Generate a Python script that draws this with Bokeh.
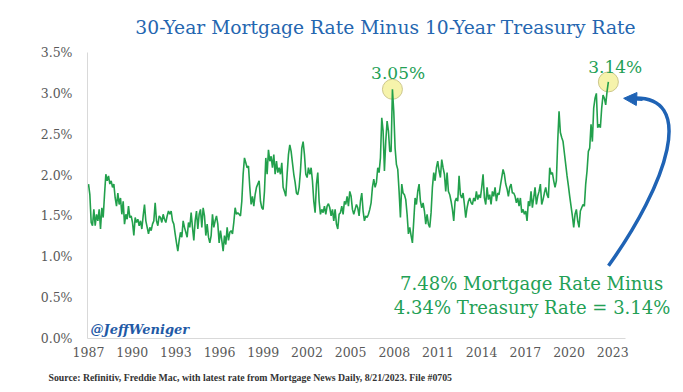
import numpy as np
from bokeh.plotting import figure
from bokeh.models import Range1d, FixedTicker, PrintfTickFormatter, Label, Arrow, NormalHead, Title
from bokeh.embed import file_html
from bokeh.resources import INLINE

# ---- data: 30-yr mortgage rate minus 10-yr Treasury (percentage points) ----
spread_1987_1993 = [
    1.89, 1.76, 1.42, 1.38, 1.58, 1.38, 1.52, 1.44, 1.58, 1.34,
    1.60, 1.48, 1.76, 2.01, 1.93, 1.99, 1.89, 1.93, 1.85, 1.89,
    1.72, 1.62, 1.78, 1.64, 1.72, 1.52, 1.68, 1.40, 1.52, 1.46,
    1.62, 1.48, 1.50, 1.42, 1.26, 1.48, 1.42, 1.46, 1.38, 1.44,
    1.34, 1.50, 1.64, 1.44, 1.36, 1.28, 1.36, 1.32, 1.40, 1.44,
    1.66, 1.44, 1.38, 1.50, 1.48, 1.42, 1.52, 1.46, 1.42, 1.50,
    1.56, 1.52, 1.56, 1.44, 1.40, 1.28, 1.17, 1.07, 1.20, 1.30,
    1.24, 1.44, 1.36, 1.30, 1.24, 1.42, 1.36]
spread_1994_2001 = [
    1.54, 1.36, 1.20, 1.44, 1.56, 1.34, 1.52, 1.58, 1.36, 1.60,
    1.50, 1.26, 1.40, 1.24, 1.17, 1.26, 1.52, 1.36, 1.44, 1.50,
    1.40, 1.17, 1.32, 1.20, 1.07, 1.26, 1.15, 1.36, 1.20, 1.30,
    1.32, 1.28, 1.42, 1.60, 1.52, 1.54, 1.52, 1.50, 1.68, 2.01,
    2.21, 2.15, 2.09, 2.11, 1.85, 1.64, 1.74, 1.62, 1.76, 1.85,
    1.89, 1.93, 1.68, 1.60, 1.58, 1.80, 2.21, 2.01, 2.31, 2.17,
    2.23, 2.09, 2.25, 2.01, 2.17, 2.03, 2.09, 2.01, 2.15, 1.85,
    1.80, 1.74, 2.01, 2.25, 2.37, 2.29, 2.15, 2.01, 1.91]
spread_2001_2009 = [
    1.78, 1.76, 1.85, 2.05, 2.33, 2.41, 2.25, 2.01, 1.97, 2.09,
    2.01, 2.09, 1.93, 1.68, 1.54, 1.89, 2.03, 1.68, 1.52, 1.58,
    1.54, 1.62, 1.52, 1.62, 1.65, 1.60, 1.50, 1.58, 1.44, 1.58,
    1.40, 1.34, 1.52, 1.54, 1.62, 1.52, 1.68, 1.64, 1.74, 1.62,
    1.80, 1.74, 1.58, 1.52, 1.58, 1.64, 1.60, 1.50, 1.68, 1.78,
    1.56, 1.44, 1.50, 1.48, 1.52, 1.58, 1.66, 1.85, 1.95, 1.85,
    1.91, 2.09, 2.03, 2.21, 2.70, 2.54, 2.05, 2.41, 2.66, 2.54,
    2.29, 2.29, 3.05, 2.78, 2.33, 2.13, 2.07, 1.80, 1.48, 1.89,
    1.78, 1.76, 1.70, 1.52, 1.28]
spread_2009_2016 = [
    1.36, 1.26, 1.17, 1.44, 1.72, 1.64, 1.80, 1.89, 1.68, 1.60,
    1.66, 1.56, 1.40, 1.52, 1.40, 1.36, 1.54, 1.85, 2.03, 1.93,
    2.09, 2.17, 2.05, 1.97, 2.19, 2.09, 2.01, 1.80, 2.03, 1.80,
    1.76, 1.68, 1.58, 1.44, 1.68, 1.72, 1.68, 1.99, 1.76, 1.72,
    1.78, 1.64, 1.48, 1.60, 1.68, 1.72, 1.66, 1.64, 1.72, 1.68,
    1.80, 1.70, 1.76, 1.72, 1.85, 2.01, 1.72, 1.64, 1.85, 1.70,
    1.76, 1.64, 1.80, 1.74, 1.85, 1.68, 1.78, 1.76, 1.87, 1.97,
    2.07, 2.01, 1.89, 1.83, 1.74, 1.85, 1.89, 1.78, 1.78, 1.74,
    1.66, 1.72, 1.62]
spread_2016_2023 = [
    1.72, 1.54, 1.58, 1.52, 1.56, 1.44, 1.68, 1.62, 1.80, 1.60,
    1.72, 1.85, 1.64, 1.74, 1.80, 1.89, 1.64, 1.70, 1.78, 1.85,
    1.76, 1.72, 2.09, 2.01, 2.03, 1.93, 1.85, 1.93, 2.41, 2.78,
    2.52, 2.46, 2.41, 2.27, 2.13, 1.99, 1.87, 1.74, 1.62, 1.50,
    1.36, 1.52, 1.58, 1.44, 1.36, 1.56, 1.60, 1.64, 1.62, 1.89,
    2.05, 2.29, 2.33, 2.62, 2.41, 2.82, 2.94, 3.00, 2.58, 2.62,
    2.58, 2.82, 2.98, 2.94, 2.86, 3.02, 3.14]

first_year, last_year = 1987.0, 2022.7
tick_years = [1987, 1990, 1993, 1996, 1999, 2002, 2005, 2008, 2011, 2014, 2017, 2020, 2023]
y_ticks = [0.0, 0.5, 1.0, 1.5, 2.0, 2.5, 3.0, 3.5]

spread = np.array(spread_1987_1993 + spread_1994_2001 + spread_2001_2009
                  + spread_2009_2016 + spread_2016_2023)
years = np.linspace(first_year, last_year, len(spread))
n_pre = len(spread) - len(spread_2016_2023)
i_peak08 = int(np.argmax(spread[:n_pre]))

GREEN = "#22a04c"
TEXT_GREEN = "#23a055"
BLUE = "#2466b0"
SERIF = "DejaVu Serif"

p = figure(width=683, height=392, output_backend="svg", toolbar_location=None,
           x_range=Range1d(1986.93, 2027.86), y_range=Range1d(0, 3.5),
           min_border_left=87, min_border_right=0, min_border_top=51, min_border_bottom=54)
p.xgrid.visible = False
p.ygrid.visible = False
p.outline_line_color = None
p.background_fill_color = "white"
p.border_fill_color = "white"

p.title.text = "30-Year Mortgage Rate Minus 10-Year Treasury Rate"
p.title.text_font = SERIF
p.title.text_font_size = "18.7px"
p.title.text_font_style = "normal"
p.title.text_color = BLUE
p.title.align = "center"
p.title.offset = -14
p.title.standoff = 29

for ax in (p.xaxis[0], p.yaxis[0]):
    ax.axis_line_color = "#d9d9d9"
    ax.axis_line_width = 1
    ax.major_tick_line_color = None
    ax.minor_tick_line_color = None
    ax.major_tick_out = 0
    ax.major_tick_in = 0
    ax.minor_tick_out = 0
    ax.major_label_text_font = SERIF
    ax.major_label_text_font_size = "12.5px"
    ax.major_label_text_color = "#595959"

p.xaxis[0].ticker = FixedTicker(ticks=tick_years)
p.xaxis[0].bounds = (1986.93, 2023.88)
p.xaxis[0].major_label_standoff = 8
p.yaxis[0].ticker = FixedTicker(ticks=y_ticks)
p.yaxis[0].formatter = PrintfTickFormatter(format="%.1f%%")
p.yaxis[0].major_label_standoff = 15

src = Title(text="Source: Refinitiv, Freddie Mac, with latest rate from Mortgage News Daily, 8/21/2023. File #0705",
            align="left", offset=-39, standoff=20, text_font="Liberation Serif",
            text_font_size="9.8px", text_font_style="bold", text_color="#333333")
p.add_layout(src, "below")

# highlight circles at the two peaks
p.scatter(x=[years[i_peak08], years[-1]], y=[spread[i_peak08], spread[-1]],
          marker="circle", size=20, fill_color="#f5f2a2", fill_alpha=0.9,
          line_color="#cdc78c", line_width=1)

p.line(years, spread, line_color=GREEN, line_width=1.6)

# curved arrow
p.bezier(x0=[2022.71], y0=[0.89], x1=[2024.09], y1=[2.939],
         cx0=[2026.63], cy0=[1.866], cx1=[2029.03], cy1=[3.024],
         line_color="#1f63b5", line_width=3.5)
p.add_layout(Arrow(end=NormalHead(size=13, fill_color="#1f63b5", line_color="#1f63b5"),
                   x_start=2025.05, y_start=2.927, x_end=2023.75, y_end=2.939,
                   line_color="#1f63b5", line_width=3.5))

def lab(text, x, y, size, color, align="center", style="normal", font=SERIF):
    p.add_layout(Label(x=x, y=y, text=text, text_font=font, text_font_size=size,
                       text_color=color, text_align=align, text_baseline="middle",
                       text_font_style=style))

lab(f"{spread[i_peak08]:.2f}%", 2008.26, 3.25, "17px", TEXT_GREEN)
lab(f"{spread[-1]:.2f}%", 2023.17, 3.32, "17px", TEXT_GREEN)
lab("7.48% Mortgage Rate Minus", 2017.43, 0.67, "18px", TEXT_GREEN)
lab("4.34% Treasury Rate = 3.14%", 2017.46, 0.378, "18px", TEXT_GREEN)
lab("@JeffWeniger", 1987.14, 0.11, "13px", "#1f5aa6", align="left", style="bold italic")

open("out.html", "w").write(file_html(p, INLINE))
